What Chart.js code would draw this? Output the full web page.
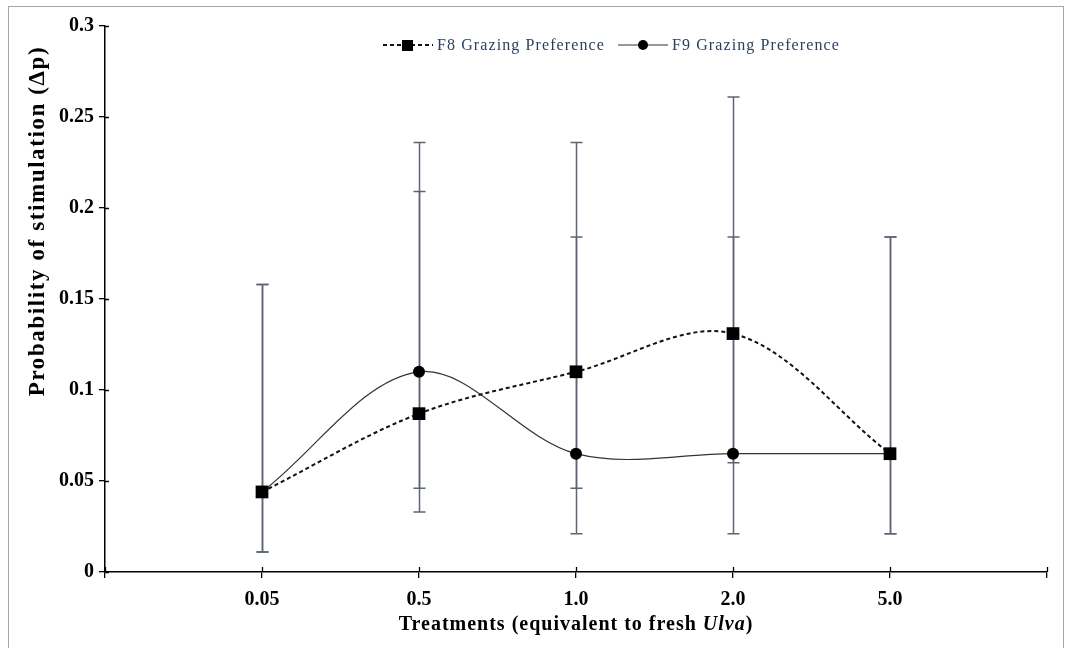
<!DOCTYPE html>
<html>
<head>
<meta charset="utf-8">
<script src="https://cdn.jsdelivr.net/npm/chart.js@4.4.1/dist/chart.umd.min.js"></script>
<style>
  html, body { margin: 0; padding: 0; background: #ffffff; }
  #wrap { position: relative; width: 1071px; height: 648px; overflow: hidden; }
  #frame { position: absolute; left: 8px; top: 6px; width: 1056px; height: 660px; border: 1px solid #a6a6a6; box-sizing: border-box; pointer-events: none; }
  canvas { position: absolute; left: 0; top: 0; }
</style>
</head>
<body>
<div id="wrap">
  <canvas id="c" width="1071" height="648"></canvas>
  <div id="frame"></div>
</div>
<script>
// Treatments (equivalent to fresh Ulva)
const categories = ['0.05', '0.5', '1.0', '2.0', '5.0'];

// Probability of stimulation, mean per treatment
const f8Values = [0.044, 0.087, 0.110, 0.131, 0.065];
const f9Values = [0.044, 0.110, 0.065, 0.065, 0.065];

// Confidence bounds per treatment
const f8Lower = [0.011, 0.033, 0.046, 0.060, 0.021];
const f8Upper = [0.158, 0.209, 0.236, 0.261, 0.184];
const f9Lower = [0.011, 0.046, 0.021, 0.021, 0.021];
const f9Upper = [0.158, 0.236, 0.184, 0.184, 0.184];

const yTicks = [0, 0.05, 0.1, 0.15, 0.2, 0.25, 0.3];

const SERIF = "'Liberation Serif', 'Times New Roman', serif";

function toPoints(vals) { return vals.map((v, i) => ({ x: i, y: v })); }

// Error bars with caps, drawn under the markers
const errorBars = {
  id: 'errorBars',
  beforeDatasetsDraw(chart) {
    const ctx = chart.ctx, xs = chart.scales.x, ys = chart.scales.y;
    ctx.save();
    ctx.strokeStyle = '#5b6575';
    ctx.lineWidth = 1.5;
    chart.data.datasets.forEach(ds => {
      ds.lower.forEach((lo, i) => {
        const hi = ds.upper[i];
        const x = Math.round(xs.getPixelForValue(i)) + 0.5;
        const y1 = ys.getPixelForValue(lo), y2 = ys.getPixelForValue(hi);
        ctx.beginPath();
        ctx.moveTo(x, y1); ctx.lineTo(x, y2);
        ctx.moveTo(x - 6, y1); ctx.lineTo(x + 6, y1);
        ctx.moveTo(x - 6, y2); ctx.lineTo(x + 6, y2);
        ctx.stroke();
      });
    });
    ctx.restore();
  }
};

// Inner halves of the axis tick marks, axis titles and legend
const decorations = {
  id: 'decorations',
  afterDraw(chart) {
    const ctx = chart.ctx, xs = chart.scales.x, ys = chart.scales.y;
    const area = chart.chartArea;
    ctx.save();
    ctx.strokeStyle = '#000';
    ctx.lineWidth = 1.3;
    ctx.beginPath();
    ys.ticks.forEach((t, i) => {
      const y = Math.round(ys.getPixelForTick(i)) + 0.5;
      ctx.moveTo(area.left, y); ctx.lineTo(area.left + 4, y);
    });
    xs.ticks.forEach((t, i) => {
      const x = Math.round(xs.getPixelForTick(i)) + 0.5;
      ctx.moveTo(x, area.bottom); ctx.lineTo(x, area.bottom - 5);
    });
    ctx.stroke();

    // y-axis title
    ctx.fillStyle = '#000';
    ctx.font = 'bold 23px ' + SERIF;
    ctx.letterSpacing = '1.6px';
    ctx.textAlign = 'center';
    ctx.textBaseline = 'middle';
    ctx.save();
    ctx.translate(38, 221);
    ctx.rotate(-Math.PI / 2);
    ctx.fillText('Probability of stimulation (\u0394p)', 0, 0);
    ctx.restore();

    // x-axis title with italic genus name
    ctx.letterSpacing = '1px';
    const p1 = 'Treatments (equivalent to fresh ', p2 = 'Ulva', p3 = ')';
    const fB = 'bold 20px ' + SERIF, fBI = 'italic bold 20px ' + SERIF;
    ctx.font = fB; const w1 = ctx.measureText(p1).width, w3 = ctx.measureText(p3).width;
    ctx.font = fBI; const w2 = ctx.measureText(p2).width;
    let x0 = 576 - (w1 + w2 + w3) / 2;
    const ty = 625;
    ctx.textAlign = 'left';
    ctx.font = fB; ctx.fillText(p1, x0, ty); x0 += w1;
    ctx.font = fBI; ctx.fillText(p2, x0, ty); x0 += w2;
    ctx.font = fB; ctx.fillText(p3, x0, ty);

    // legend
    const ly = 45;
    ctx.font = '16px ' + SERIF;
    ctx.letterSpacing = '1.1px';
    ctx.textBaseline = 'middle';
    const items = [
      { x: 383, ds: chart.data.datasets[0] },
      { x: 618, ds: chart.data.datasets[1] }
    ];
    items.forEach(it => {
      const ds = it.ds;
      ctx.strokeStyle = ds.borderColor;
      ctx.lineWidth = ds.borderWidth;
      ctx.setLineDash(ds.borderDash || []);
      ctx.beginPath(); ctx.moveTo(it.x, ly); ctx.lineTo(it.x + 50, ly); ctx.stroke();
      ctx.setLineDash([]);
      ctx.fillStyle = '#000';
      if (ds.pointStyle === 'rect') {
        ctx.fillRect(it.x + 19, ly - 5, 11, 11);
      } else {
        ctx.beginPath(); ctx.arc(it.x + 25, ly, 5, 0, Math.PI * 2); ctx.fill();
      }
      ctx.fillStyle = '#2b3f5c';
      ctx.textAlign = 'left';
      ctx.fillText(ds.label, it.x + 54, ly + 1);
    });
    ctx.letterSpacing = '0px';
    ctx.restore();
  }
};

new Chart(document.getElementById('c'), {
  type: 'line',
  data: {
    datasets: [
      {
        label: 'F8 Grazing Preference',
        data: toPoints(f8Values),
        lower: f8Lower, upper: f8Upper,
        borderColor: '#111111', borderWidth: 2, borderDash: [4, 3],
        pointStyle: 'rect', pointRadius: 9, pointHoverRadius: 9,
        pointBackgroundColor: '#000', pointBorderColor: '#000', pointBorderWidth: 0,
        tension: 0.34, fill: false
      },
      {
        label: 'F9 Grazing Preference',
        data: toPoints(f9Values),
        lower: f9Lower, upper: f9Upper,
        borderColor: '#333333', borderWidth: 1.2,
        pointStyle: 'circle', pointRadius: 6, pointHoverRadius: 6,
        pointBackgroundColor: '#000', pointBorderColor: '#000', pointBorderWidth: 0,
        tension: 0.34, fill: false
      }
    ]
  },
  options: {
    responsive: false,
    animation: false,
    events: [],
    layout: { padding: { top: 26, right: 24, left: 0, bottom: 0 } },
    plugins: { legend: { display: false }, tooltip: { enabled: false } },
    scales: {
      x: {
        type: 'linear',
        min: -1, max: 5,
        afterFit(s) { s.height = 76; },
        afterBuildTicks(s) { s.ticks = [-1, 0, 1, 2, 3, 4, 5].map(v => ({ value: v })); },
        ticks: {
          stepSize: 1,
          autoSkip: false,
          maxRotation: 0,
          padding: 10,
          color: '#000',
          font: { family: SERIF, size: 20, weight: 'bold' },
          callback: v => (categories[v] !== undefined ? categories[v] : '')
        },
        grid: { display: true, drawOnChartArea: false, drawTicks: true, tickLength: 6, color: '#000', lineWidth: 1.3 },
        border: { display: true, color: '#000', width: 1.5 }
      },
      y: {
        min: 0, max: 0.3,
        afterFit(s) { s.width = 105; },
        afterBuildTicks(s) { s.ticks = yTicks.map(v => ({ value: v })); },
        ticks: {
          padding: 5,
          color: '#000',
          font: { family: SERIF, size: 20, weight: 'bold' },
          callback: v => String(Math.round(v * 100) / 100)
        },
        grid: { display: true, drawOnChartArea: false, drawTicks: true, tickLength: 6, color: '#000', lineWidth: 1.3 },
        border: { display: true, color: '#000', width: 1.5 }
      }
    }
  },
  plugins: [errorBars, decorations]
});
</script>
</body>
</html>
